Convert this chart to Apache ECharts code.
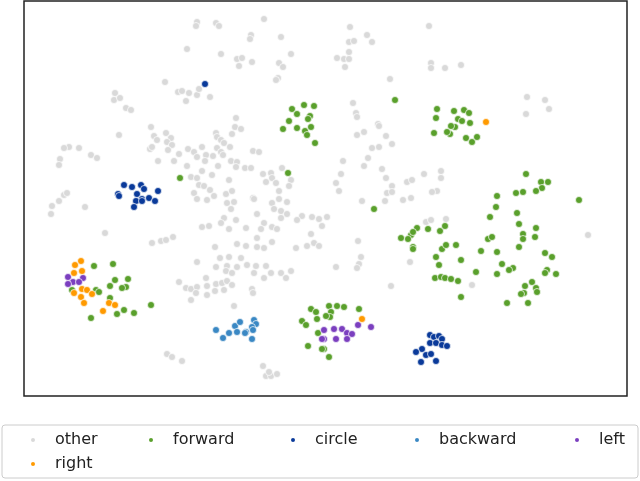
<!DOCTYPE html>
<html><head><meta charset="utf-8">
<script src="https://cdn.jsdelivr.net/npm/echarts@6/dist/echarts.min.js"></script>
<style>html,body{margin:0;padding:0;background:#fff}#c{width:640px;height:481px}</style>
</head><body><div id="c"></div>
<script>
const categories = ['other','forward','circle','backward','left','right'];
const other = [[197,22],[196,26],[216,23],[219,26],[264,19],[251,35],[250,39],[281,37],[187,49],[221,54],[237,59],[242,58],[252,62],[239,66],[291,54],[279,63],[283,67],[278,78],[276,80],[165,82],[178,92],[182,91],[189,93],[197,95],[199,89],[210,97],[186,101],[115,93],[114,100],[120,98],[126,108],[131,110],[236,118],[235,127],[241,129],[232,134],[119,135],[151,127],[154,136],[157,140],[150,149],[152,147],[166,133],[171,138],[167,142],[172,145],[168,150],[216,133],[217,137],[221,140],[224,143],[217,148],[230,147],[221,152],[69,147],[64,148],[79,148],[91,155],[97,158],[60,159],[59,165],[158,161],[174,161],[179,154],[188,149],[187,166],[194,152],[197,157],[202,147],[206,155],[205,161],[213,156],[218,166],[223,155],[231,161],[237,162],[236,167],[245,168],[251,168],[253,151],[259,152],[263,174],[271,173],[272,178],[266,182],[276,183],[282,168],[291,180],[289,186],[191,177],[197,178],[202,171],[212,175],[229,180],[199,185],[204,186],[210,190],[194,193],[214,196],[226,194],[232,191],[253,198],[279,191],[64,195],[67,193],
[59,201],[52,206],[51,214],[85,207],[105,233],[152,243],[161,241],[166,240],[173,237],[197,199],[207,200],[227,203],[234,202],[231,209],[254,199],[272,203],[279,199],[287,202],[274,209],[281,211],[287,214],[281,218],[302,216],[312,217],[319,219],[297,220],[322,226],[202,227],[209,226],[224,218],[221,223],[229,229],[236,220],[246,228],[257,214],[264,223],[261,229],[272,227],[277,229],[257,238],[311,234],[314,243],[319,246],[307,246],[296,248],[215,247],[237,244],[246,246],[257,247],[264,248],[272,242],[197,262],[220,258],[229,257],[241,258],[227,266],[237,267],[247,265],[256,266],[266,266],[216,267],[226,271],[232,273],[254,273],[264,278],[271,273],[281,273],[291,271],[286,278],[206,278],[179,282],[186,288],[191,289],[197,287],[207,286],[216,284],[222,283],[227,281],[232,285],[196,293],[207,295],[215,291],[224,290],[191,300],[252,289],[253,293],[234,306],[167,354],[172,357],[182,361],[263,366],[266,376],[271,376],[277,374],[269,372],
[350,27],[349,42],[354,41],[367,35],[372,42],[349,52],[337,58],[344,59],[349,59],[345,67],[429,26],[431,63],[431,68],[445,68],[461,65],[390,79],[353,103],[356,113],[357,117],[378,124],[379,126],[357,135],[364,132],[386,136],[392,144],[372,148],[379,147],[368,158],[364,166],[343,161],[341,174],[336,183],[339,191],[382,169],[386,178],[392,186],[387,193],[392,192],[407,182],[412,180],[424,174],[441,171],[441,178],[437,191],[432,192],[527,97],[545,100],[549,109],[526,114],
[362,201],[385,201],[403,200],[411,198],[327,217],[426,222],[431,220],[446,219],[358,241],[361,257],[359,264],[357,268],[336,267],[410,262],[391,286],[472,285],[588,235]];
const forward = [[437,109],[436,118],[454,111],[464,110],[469,113],[458,119],[462,121],[470,123],[455,127],[451,126],[434,133],[450,134],[447,132],[466,138],[472,142],[477,137],[395,100],
[304,105],[314,106],[292,109],[297,114],[310,116],[308,119],[289,121],[283,129],[297,128],[305,131],[311,127],[307,135],[315,143],[288,173],[180,178],
[329,306],[337,306],[344,307],[359,309],[331,312],[330,317],[326,316],[324,349],[329,357],[311,309],[316,312],[317,319],[302,321],[306,325],[318,333],[308,346],[322,349],
[94,266],[113,264],[115,280],[110,286],[128,279],[126,287],[122,288],[96,290],[99,292],[72,290],[110,298],[124,310],[117,314],[134,313],[151,305],[91,318],
[526,174],[541,182],[548,182],[542,188],[536,191],[516,193],[523,192],[497,196],[579,200],[374,209],[496,207],[490,217],[517,213],[519,224],[523,234],[523,239],[536,228],[535,237],[519,247],[488,239],[492,237],[481,251],[497,252],[502,264],[513,268],[509,270],[497,274],[476,272],[545,253],[552,257],[547,270],[545,273],[556,274],[532,282],[525,286],[536,288],[537,292],[524,293],[521,294],[507,303],[528,303],
[417,228],[428,229],[440,231],[445,226],[411,235],[413,232],[401,238],[408,239],[413,247],[413,249],[456,245],[442,249],[446,245],[436,257],[461,260],[439,265],[435,278],[441,277],[445,278],[451,279],[458,281],[461,297]];
const circle = [[205,84],[124,185],[132,187],[141,185],[144,189],[118,194],[137,194],[158,191],[149,198],[142,199],[119,196],[136,201],[142,201],[155,201],[134,207],
[430,335],[434,337],[439,336],[442,339],[430,343],[436,343],[442,345],[447,346],[422,349],[416,352],[426,355],[431,354],[421,362],[436,361]];
const backward = [[216,330],[223,338],[229,333],[235,326],[240,322],[246,332],[245,333],[254,320],[256,324],[252,327],[253,330],[252,339],[237,332]];
const left = [[324,330],[334,329],[342,329],[347,333],[352,334],[336,339],[347,339],[358,325],[371,327],[324,339],[322,339],[68,277],[83,278],[73,282],[79,282],[68,284]];
const right = [[486,122],[362,319],[81,261],[75,265],[82,271],[74,273],[82,289],[87,290],[92,294],[74,293],[81,297],[84,303],[103,311],[109,303],[115,305]];
const colors = ['#d9d9d9','#5aa02c','#0a3a9a','#3a88c4','#7b3fbf','#ff9a00'];
const seriesData = [other, forward, circle, backward, left, right];
const legendPos = [[24,429],[142,429],[284,429],[408,429],[568,429],[24,453]];

const chart = echarts.init(document.getElementById('c'));
chart.setOption({
  animation:false,
  grid:{left:24,top:1,width:603,height:395,show:true,borderColor:'#222',borderWidth:1.5,backgroundColor:'#fff'},
  xAxis:{type:'value',min:24,max:627,show:false},
  yAxis:{type:'value',min:1,max:396,inverse:true,show:false},
  graphic:[{type:'rect',shape:{x:2,y:425,width:636,height:53,r:3},style:{fill:'#fff',stroke:'#ccc',lineWidth:1},z:-1}],
  legend: categories.map((c,i)=>({data:[c],left:legendPos[i][0],top:legendPos[i][1]-2,itemWidth:6,itemHeight:6,itemGap:5,icon:'circle',
    textStyle:{fontFamily:'DejaVu Sans',fontSize:16,color:'#222',padding:[0,0,0,14]}})),
  series: categories.map((c,i)=>({name:c,type:'scatter',data:seriesData[i],symbol:'circle',symbolSize:7,
    itemStyle:{color:colors[i],borderColor:'#fff',borderWidth:0.7,opacity:1},z:i===0?1:2}))
});
</script></body></html>
